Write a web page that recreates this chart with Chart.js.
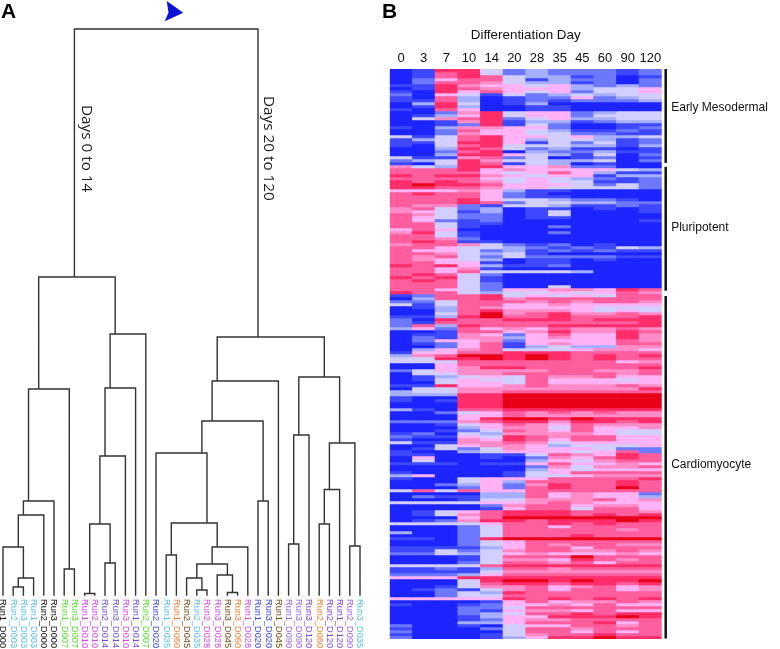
<!DOCTYPE html>
<html>
<head>
<meta charset="utf-8">
<title>Clustering and heatmap</title>
<script src="https://cdn.jsdelivr.net/npm/chart.js@4"></script>
<style>
body { margin: 0; background: #fff; font-family: "Liberation Sans", Arial, sans-serif; color: #111; }
canvas { position: absolute; top: 0; }
.txt { position: absolute; white-space: nowrap; }
.panel { font-size: 21px; font-weight: bold; color: #000; }
.side { writing-mode: vertical-rl; font-family: "Open Sans", sans-serif; font-size: 15.3px; color: #222; }
</style>
</head>
<body>
<div style="position:absolute;left:0;top:0;width:780px;height:649px;overflow:hidden">
<canvas id="tree" style="left:0"></canvas>
<canvas id="heat" style="left:380px"></canvas>
<svg style="position:absolute;left:160px;top:0" width="26" height="24"><path d="M6.7 1 L23.3 12.7 L4.7 21.3 L8.5 12.5 Z" fill="#0a12d8"/></svg>
<div class="txt panel" style="left:1px;top:-1px">A</div>
<div class="txt panel" style="left:382px;top:-1px">B</div>
<div class="txt side" style="left:78px;top:105px">Days 0 to 14</div>
<div class="txt side" style="left:260px;top:96px">Days 20 to 120</div>
</div>
<script>
// panel A: leaves in plot order, merges follow the hclust convention
// (negative = leaf number, positive = earlier merge)
const leafNames = ['Run1_D000','Run2_D003','Run3_D003','Run1_D003','Run2_D000','Run3_D000','Run1_D007','Run3_D007','Run1_D010','Run2_D010','Run2_D014','Run3_D014','Run3_D010','Run1_D014','Run2_D007','Run2_D020','Run1_D035','Run1_D060','Run2_D045','Run2_D035','Run2_D028','Run3_D028','Run3_D045','Run3_D060','Run1_D028','Run1_D020','Run3_D020','Run1_D045','Run1_D090','Run3_D090','Run3_D120','Run2_D060','Run2_D120','Run1_D120','Run2_D090','Run3_D035'];
const mergeLeft   = [-2, 1, -1, 3, 4, -7, 5, -9, -11, 8, 10, 11, 12, 7, -17, -20, -19, -23, -22, 17, 20, 15, -16, -26, 23, 25, -29, 27, -32, 29, -35, 30, 28, 26, 14];
const mergeRight  = [-3, -4, 2, -5, -6, -8, 6, -10, -12, 9, -13, -14, -15, 13, -18, -21, 16, -24, 18, 19, -25, 21, 22, -27, 24, -28, -30, -31, -33, -34, -36, 31, 32, 33, 34];
const mergeHeight = [8, 17, 48, 80, 94, 26, 206, 1.5, 32, 71, 139, 207, 261, 318, 40, 5, 17, 2.5, 20, 31, 48, 72, 142, 94, 174, 214, 51, 160, 71, 105.5, 49, 152, 218, 258, 566];
const dayColors = {D000:'#111111',D003:'#5cc1f0',D007:'#58e02e',D010:'#dd44ee',D014:'#6a50e0',D020:'#3c4ae0',D028:'#d848ec',D035:'#5cc1f0',D045:'#7a4c1e',D060:'#f58232',D090:'#9a66f0',D120:'#7c48e4'};

// panel B
const days = ['0','3','7','10','14','20','28','35','45','60','90','120'];
const levelColors = ['#1c24ff','#3e48ff','#6c78ff','#a6aeff','#d2ceff','#ffb2f6','#ff8cc8','#ff5e9e','#ff2e6a','#e80018'];
const groupNames = ['Early Mesodermal','Pluripotent','Cardiomyocyte'];
const groupFirstRow = [0, 32.6, 75.7];
const groupLastRow = [31.3, 73.9, 189.8];
const groupLabelRow = [13, 53, 132];
// one string per row, one digit per day: colour level
const heatRows = [
'018842322212','017842322212','017874331201','025774132202','027764331202','118655453232','018765553445','108575452445',
'205414234344','107301225234','117301212223','038401300000','018300110000','107500110000','002684552344','013584552444',
'046782453344','001681331233','001281420011','103665520012','002755431121','002655442211','414785545334','134785344312',
'114885142412','104784443313','003874231101','002780322311','003885431402','411672401201','234864433402','104871430100',
'643885562200','777856555543','777754575311','878865455133','777754543212','878764544112','898875554242','887765544442',
'555653110000','787752100000','777752110000','777854432210','777872443322','766214431121','674230110101','654130140001',
'764220140000','754220110000','752120000001','774110000000','774100020000','575000000000','684100020000','774100000000',
'776200000000','787110000000','677642120100','775443212143','755423121211','776434100000','767424222211','765430110100',
'775510110000','878531120000','775610000000','775744443000','787420000000','878410000000','787410000000','777420000000',
'777420040000','775425566587','877434454576','127784545477','037786777777','224777676776','414775565555','013765555444',
'003786665454','004796786676','113897787778','208778887888','217777777778','273877788888','352756576676','001775686687',
'011652575586','021663565586','025562555576','012571565577','002571343366','035674445665','155778887777','367998987878',
'448898987877','444777777756','005777777777','005688777778','245666677667','044667777767','013454766755','014544755545',
'004554755555','118556766676','044666666668','344667777777','333889999999','100889999999','101889999999','000889999999',
'000889999999','310778888888','002457676766','000557666666','000589989888','222678868878','001457657666','000356647556',
'001247657544','120436666544','211548767755','100658757755','411667645555','004566534445','014246555422','100345554572',
'110011476587','050010265787','040000354677','111011575565','000000264667','000000354555','100001457777','350001445666',
'100455577778','000453777787','002352687787','000252787797','474755777777','000033756552','021133756553','000144666756',
'444455676555','000026775665','000015774775','014578887776','014678887878','000579999999','012688788898','444457787877',
'000247757777','000247777767','300247777777','000247778777','110289999999','000245777777','000245767766','111135775777',
'114246776676','224345655565','000147779777','000146658767','000247767577','444478888888','112137767777','111146666666',
'222357777777','555888888888','000489989889','000478878878','001466756756','012146757756','002438777777','002447777777',
'555558787878','000015756676','100125565755','000224777777','000215665755','000234778788','000135588898','000125667777',
'000335777857','200104557767','100024776777','200004775757','100014677877','200013588988'
];

// mean leaf position of a merge, used for its stem
function members(id) {
    if (id < 0) return [-id - 1];
    return members(mergeLeft[id - 1]).concat(members(mergeRight[id - 1]));
}
function nodeX(id) {
    const m = members(id);
    return m.reduce((a, b) => a + b, 0) / m.length;
}
function nodeY(id) {
    return id < 0 ? 0 : mergeHeight[id - 1];
}
const treeLines = [];
mergeHeight.forEach((h, i) => {
    const a = mergeLeft[i], b = mergeRight[i];
    treeLines.push({x: nodeX(a), y: nodeY(a)}, {x: nodeX(a), y: h}, {x: nodeX(b), y: h}, {x: nodeX(b), y: nodeY(b)}, {x: NaN, y: NaN});
});

const leafLabelPlugin = {
    id: 'leafLabels',
    afterDraw(chart) {
        const ctx = chart.ctx, xs = chart.scales.x;
        ctx.save();
        ctx.font = '9.2px "Liberation Sans"';
        ctx.textAlign = 'left';
        ctx.textBaseline = 'middle';
        leafNames.forEach((name, i) => {
            ctx.save();
            ctx.translate(xs.getPixelForValue(i), chart.chartArea.bottom + 4);
            ctx.rotate(Math.PI / 2);
            ctx.fillStyle = dayColors[name.slice(5)];
            ctx.fillText(name, 0, 0);
            ctx.restore();
        });
        ctx.restore();
    }
};

const treeCanvas = document.getElementById('tree');
treeCanvas.width = 380; treeCanvas.height = 649;
treeCanvas.style.width = '380px'; treeCanvas.style.height = '649px';
new Chart(treeCanvas, {
    type: 'scatter',
    data: { datasets: [{ data: treeLines, showLine: true, spanGaps: false, pointRadius: 0, borderColor: '#333333', borderWidth: 1.4, borderCapStyle: 'square', clip: false }] },
    options: {
        responsive: false,
        animation: false,
        layout: { padding: { left: 3, right: 20, top: 20, bottom: 54 } },
        scales: {
            x: { type: 'linear', min: 0, max: 35, display: false },
            y: { type: 'linear', min: 0, max: 575, display: false }
        },
        plugins: { legend: { display: false }, tooltip: { enabled: false } }
    },
    plugins: [leafLabelPlugin]
});

const groupPlugin = {
    id: 'groups',
    afterDraw(chart) {
        const ctx = chart.ctx, ys = chart.scales.y, right = chart.chartArea.right;
        ctx.save();
        ctx.strokeStyle = '#111';
        ctx.lineWidth = 2.5;
        ctx.fillStyle = '#111';
        ctx.font = '12px "Liberation Sans"';
        ctx.textAlign = 'left';
        ctx.textBaseline = 'middle';
        groupNames.forEach((name, i) => {
            ctx.beginPath();
            ctx.moveTo(right + 4, ys.getPixelForValue(groupFirstRow[i]));
            ctx.lineTo(right + 4, ys.getPixelForValue(groupLastRow[i]));
            ctx.stroke();
            ctx.fillText(name, right + 9.5, ys.getPixelForValue(groupLabelRow[i]));
        });
        ctx.restore();
    }
};

const heatCanvas = document.getElementById('heat');
heatCanvas.width = 400; heatCanvas.height = 649;
heatCanvas.style.width = '400px'; heatCanvas.style.height = '649px';
new Chart(heatCanvas, {
    type: 'bar',
    data: {
        labels: days,
        datasets: heatRows.map(row => ({
            data: days.map(() => 1),
            backgroundColor: days.map((d, i) => levelColors[Number(row[i])]),
            borderWidth: 0,
            barPercentage: 1,
            categoryPercentage: 1
        }))
    },
    options: {
        responsive: false,
        animation: false,
        layout: { padding: { left: 9.7, right: 118.3, top: 0, bottom: 10 } },
        scales: {
            x: {
                stacked: true,
                position: 'top',
                grid: { display: false, drawTicks: false },
                border: { display: false },
                ticks: { color: '#111', font: { family: 'Liberation Sans', size: 13 }, maxRotation: 0, autoSkip: false, padding: 3 },
                title: { display: true, text: 'Differentiation Day', color: '#111', font: { family: 'Liberation Sans', size: 13.4 }, padding: { top: 27, bottom: 0 } },
                afterFit(s) { s.height = 69; }
            },
            y: { stacked: true, reverse: true, min: 0, max: heatRows.length, display: false }
        },
        plugins: { legend: { display: false }, tooltip: { enabled: false } }
    },
    plugins: [groupPlugin]
});
</script>
</body>
</html>
